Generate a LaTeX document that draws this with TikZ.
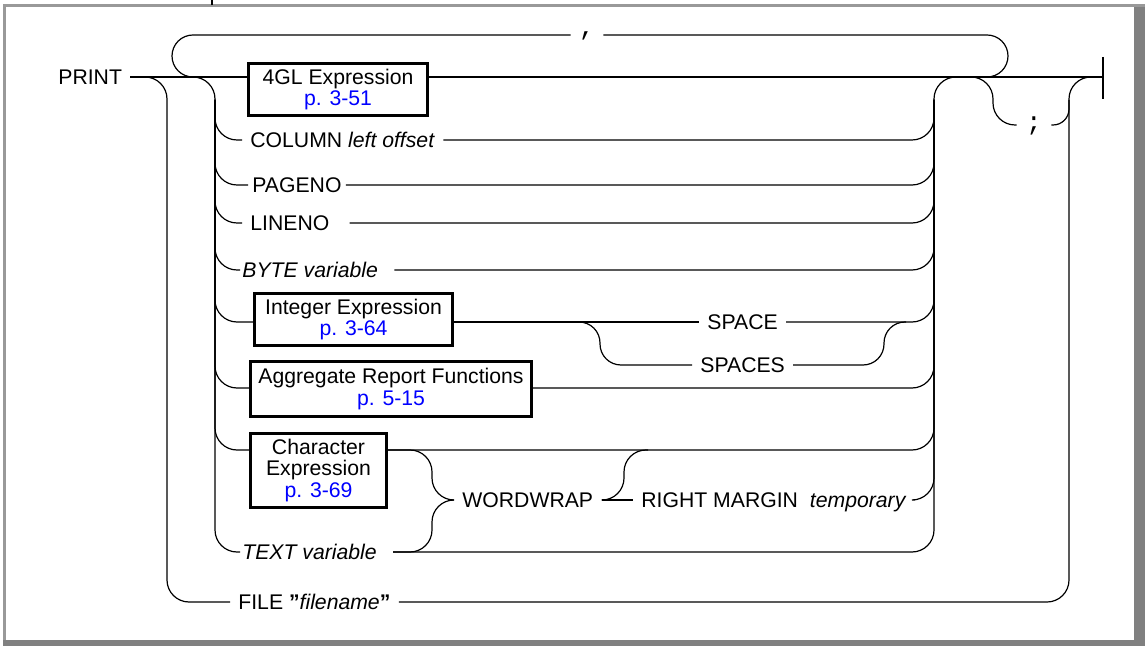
\documentclass[tikz,border=0pt]{standalone}
\usepackage{fontspec}
\setmainfont{Liberation Sans}
\newfontfamily\punctfont{Liberation Mono}
\usepackage{tikz}
\definecolor{frameLight}{gray}{0.6}
\definecolor{frameDark}{gray}{0.5}
\definecolor{pageblue}{HTML}{0000FF}

\begin{document}
\begin{tikzpicture}[x=0.5pt, y=-0.5pt,
  rail/.style={line width=0.6pt, rounded corners=11pt},
  sbend/.style={line width=0.6pt, rounded corners=10.5pt},
  kw/.style={anchor=west, inner xsep=4pt, inner ysep=0pt, text height=7.6pt,
             text depth=0pt, font=\fontsize{10.6}{12}\selectfont},
  synbox/.style={draw, line width=1.5pt, align=center, inner sep=0pt,
                 font=\fontsize{10.6}{10.8}\selectfont},
  punct/.style={inner sep=0pt, text depth=0pt,
                font=\punctfont\fontsize{13}{13}\selectfont}
]
\useasboundingbox (0,0) rectangle (1145,646);

% Frame
\fill[frameLight] (3,4) rectangle (1145,7);
\fill[frameLight] (3,4) rectangle (6,640);
\fill[frameDark] (1134,7) rectangle (1145,646);
\fill[frameDark] (3,640) rectangle (1145,646);
\draw[line width=0.8pt] (212,0) -- (212,5);

% Keywords and variables
\node[kw] (print) at (50,77) {PRINT};
\node[kw] (column) at (242,140) {COLUMN \textit{left offset}};
\node[kw, inner xsep=2pt] (pageno) at (248,185) {PAGENO};
\node[kw] (lineno) at (242,223) {LINENO};
\node[kw, inner xsep=1pt] (byte) at (240,270) {\textit{BYTE variable}};
\node[kw] (space) at (699,322) {SPACE};
\node[kw] (spaces) at (692,365) {SPACES};
\node[kw, inner xsep=1pt] (textvar) at (240,552) {\textit{TEXT variable}};
\node[kw] (wordwrap) at (454,500) {WORDWRAP};
\node[kw] (rmargin) at (633,500) {RIGHT MARGIN\hspace{3pt} \textit{temporary}};
\node[kw] (file) at (230,602) {FILE \textbf{"}\textit{filename}\textbf{"}};

% Boxed segments
\node[synbox, minimum width=89.5pt, minimum height=26pt] (gl) at (338,89.5)
  {4GL Expression\\\textcolor{pageblue}{p. 3-51}};
\node[synbox, minimum width=99pt, minimum height=26pt] (intbox) at (353.5,319.5)
  {Integer Expression\\\textcolor{pageblue}{p. 3-64}};
\node[synbox, minimum width=140.5pt, minimum height=27.5pt] (agg) at (391,389)
  {Aggregate Report Functions\\\textcolor{pageblue}{p. 5-15}};
\node[synbox, minimum width=68pt, minimum height=37pt] (charbox) at (318.5,470.5)
  {Character\\Expression\\\textcolor{pageblue}{p. 3-69}};

% Separators
\node[punct, minimum width=16pt, text height=1pt] (comma) at (587,35) {,};
\node[punct, minimum width=17pt, text height=6pt] (semi) at (1034,125) {;};

% Rail points
\coordinate (lr) at (215,100);
\coordinate (rr) at (934,100);
\coordinate (fin) at (1103,77);
\coordinate (split) at (960,77);
\coordinate (yAgg) at (0,388);
\coordinate (yChar) at (0,450);

% Main line and end bar
\draw[rail] (print.east) -- (print.east -| gl.west);
\draw[rail] (gl.east |- print.east) -- (fin);
\draw[line width=1pt] (1103,57) -- (1103,99);

% Comma loop
\draw[sbend] (comma.west) -| (172,77) -- (215,77);
\draw[sbend] (comma.east) -| (1008,77) -- (split);

% Left and right rails
\draw[rail] (print.east) -| (215,552) -- (textvar.west);
\draw[rail] ([xshift=7pt]textvar.east) -| (934,77) -- (split);

% Branches off the left rail
\foreach \n in {column, pageno, lineno, byte}
  \draw[rail] (lr) |- (\n.west);
\draw[rail] (lr) |- (intbox.west |- space.west);
\draw[rail] (lr) |- (agg.west |- yAgg);
\draw[rail] (lr) |- (charbox.west |- yChar);

% Branches into the right rail
\draw[rail] (column.east) -| (rr);
\draw[rail] (pageno.east) -| (rr);
\draw[rail] ([xshift=6pt]lineno.east) -| (rr);
\draw[rail] ([xshift=7pt]byte.east) -| (rr);
\draw[rail] (space.east) -| (rr);
\draw[rail] (agg.east |- yAgg) -| (rr);
\draw[rail] (charbox.east |- yChar) -| (rr);
\draw[rail] (rmargin.east) -| (rr);

% SPACE / SPACES
\draw[rail] (intbox.east |- space.west) -- (space.west);
\draw[sbend] (intbox.east |- space.west) -| (600,365) -- (spaces.west);
\draw[sbend] (spaces.east) -| (884,322) -- ++(22,0);

% WORDWRAP
\draw[rail] (charbox.east |- yChar) -| (432,500) -- (wordwrap.west);
\draw[rail] ([xshift=7pt]textvar.east) -| (432,500) -- (wordwrap.west);
\draw[rail] (wordwrap.east) -- (rmargin.west);
\draw[rail] (wordwrap.east) -| (624,450) -- ++(24,0);

% FILE
\draw[rail] (print.east) -| (167,602) -- (file.west);
\draw[rail] (file.east) -| (1069,77) -- (fin);

% Semicolon
\draw[rail] (split) -| (993,125) -- (semi.west);
\draw[rail, rounded corners=8pt] (semi.east) -| (1069,100);

\end{tikzpicture}
\end{document}
